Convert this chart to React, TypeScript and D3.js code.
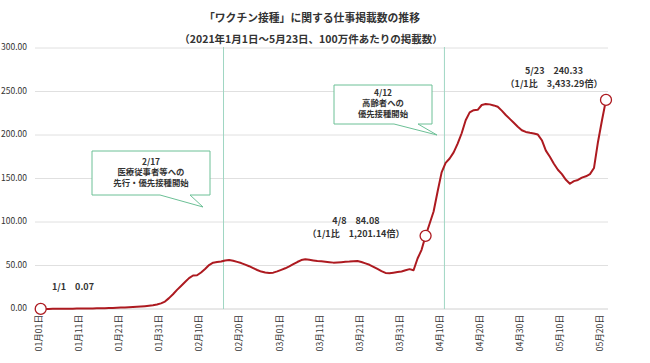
import React from "react";
import * as d3 from "d3";

// Daily values (job postings per 1M) from 2021-01-01, index-based
const values: number[] = [
  0.07, 0.1, 0.12, 0.15, 0.2, 0.25, 0.3, 0.35, 0.4, 0.45,
  0.5, 0.55, 0.6, 0.7, 0.8, 0.9, 1.0, 1.1, 1.2, 1.4,
  1.6, 1.8, 2.0, 2.2, 2.5, 2.8, 3.2, 3.7, 4.3, 5.2,
  6.5, 8.5, 12.5, 17, 22, 26.5, 31, 35.5, 38.5, 38.8,
  42, 46, 50.5, 53.2, 54, 54.6, 55.8, 56.3, 55.5, 54.2,
  52.8, 51, 49.2, 47, 44.8, 43, 42, 41.4, 41.8, 43.2,
  45, 46.8, 49, 51.5, 54, 56.2, 57.1, 56.5, 55.8, 55.2,
  54.8, 54.3, 53.8, 53.3, 53.5, 53.8, 54.2, 54.5, 55, 55.2,
  54, 52.4, 50.8, 48.5, 46, 43.5, 41.5, 41.2, 41.8, 42.5,
  43.2, 44.5, 45.8, 44.5, 58, 68, 84.08, 98, 112, 135,
  157, 168, 173, 180, 190, 202, 217, 226, 228.5, 229,
  234.5, 235.6, 235.2, 234, 232.5, 228, 223, 218.5, 214, 209.5,
  205.5, 203.5, 202.5, 201.8, 200.5, 194, 182, 175, 167, 160,
  155, 148.5, 144, 147, 148.3, 151, 152.5, 155, 162, 192,
  217, 240.33,
];

const tickIdx: number[] = [0, 10, 20, 30, 40, 50, 60, 70, 80, 90, 100, 110, 120, 130, 140];
const tickLabels: string[] = [
  "01月01日", "01月11日", "01月21日", "01月31日", "02月10日", "02月20日", "03月01日",
  "03月11日", "03月21日", "03月31日", "04月10日", "04月20日", "04月30日", "05月10日", "05月20日",
];
const yTicks: number[] = [0, 50, 100, 150, 200, 250, 300];

// highlighted points (index)
const markIdx: number[] = [0, 96, 141];
const markLabels: string[][] = [
  ["1/1\u30000.07"],
  ["4/8\u300084.08", "（1/1比\u30001,201.14倍）"],
  ["5/23\u3000240.33", "（1/1比\u30003,433.29倍）"],
];
// event vertical lines (index positions)
const eventIdx: number[] = [45.6, 100.7];
const eventLabels: string[][] = [
  ["2/17", "医療従事者等への", "先行・優先接種開始"],
  ["4/12", "高齢者への", "優先接種開始"],
];

const title1 = "「ワクチン接種」に関する仕事掲載数の推移";
const title2 = "（2021年1月1日～5月23日、100万件あたりの掲載数）";

const W = 650;
const H = 363;
const FONT = "'Noto Sans CJK JP', 'Noto Sans', sans-serif";
const TXT = "#333";

export default function App() {
  const x = d3.scaleLinear().domain([0, values.length - 1]).range([40.7, 606]);
  const y = d3.scaleLinear().domain([0, 300]).range([309, 48]);
  const line = d3
    .line<number>()
    .x((_, i) => x(i))
    .y((d) => y(d));

  const gridL = 35;
  const gridR = 608;

  // callout boxes layout
  const boxes = [
    { x0: 92, x1: 210, y0: 151, y1: 195, tb0: 160, tb1: 190, ax: 203, ay: 207, cx: 151, ty: 162.5 },
    { x0: 334, x1: 432, y0: 85, y1: 124, tb0: 394, tb1: 418, ax: 437, ay: 135, cx: 383, ty: 93.5 },
  ];
  const labelPos = [
    { cx: 73, y: 288 },
    { cx: 356, y: 222 },
    { cx: 554, y: 72 },
  ];

  return (
    <div>
      <style>{`body{margin:0;background:#fff}`}</style>
      <svg width={W} height={H} style={{ display: "block", background: "#fff" }} fontFamily={FONT}>
        <text x={312} y={19} textAnchor="middle" dominantBaseline="middle" fontSize={10.8} fontWeight={700} fill={TXT}>
          {title1}
        </text>
        <text x={311} y={40} textAnchor="middle" dominantBaseline="middle" fontSize={10.5} fontWeight={700} fill={TXT}>
          {title2}
        </text>

        {yTicks.map((t) => (
          <g key={t}>
            <line x1={gridL} x2={gridR} y1={y(t)} y2={y(t)} stroke={t === 0 ? "#d0d0d0" : "#e0e0e0"} strokeWidth={1} />
            <text x={27} y={y(t)} textAnchor="end" dominantBaseline="middle" fontSize={8.5} fill={TXT}>
              {t.toFixed(2)}
            </text>
          </g>
        ))}

        {tickIdx.map((ti, k) => (
          <text
            key={ti}
            transform={`translate(${x(ti) - 1},315) rotate(-90)`}
            textAnchor="end"
            dominantBaseline="middle"
            fontSize={8.6}
            fill={TXT}
          >
            {tickLabels[k]}
          </text>
        ))}

        {eventIdx.map((ei) => (
          <line key={ei} x1={x(ei)} x2={x(ei)} y1={47} y2={309} stroke="#9fd6c3" strokeWidth={1} />
        ))}

        {boxes.map((b, k) => (
          <g key={k}>
            <path
              d={`M${b.x0},${b.y0}H${b.x1}V${b.y1}H${b.tb1}L${b.ax},${b.ay}L${b.tb0},${b.y1}H${b.x0}Z`}
              fill="#fff"
              stroke="#6cc096"
              strokeWidth={1}
            />
            {eventLabels[k].map((s, j) => (
              <text
                key={j}
                x={b.cx}
                y={b.ty + j * 10.6}
                textAnchor="middle"
                dominantBaseline="middle"
                fontSize={8.4}
                fontWeight={700}
                fill={TXT}
              >
                {s}
              </text>
            ))}
          </g>
        ))}

        <path d={line(values) || ""} fill="none" stroke="#ad1a20" strokeWidth={2} strokeLinejoin="round" />

        {markIdx.map((mi) => (
          <circle key={mi} cx={x(mi)} cy={y(values[mi])} r={5.5} fill="#fff" stroke="#ad1a20" strokeWidth={1.3} />
        ))}

        {markLabels.map((ls, k) =>
          ls.map((s, j) => (
            <text
              key={`${k}-${j}`}
              x={labelPos[k].cx}
              y={labelPos[k].y + j * 12.6}
              textAnchor="middle"
              dominantBaseline="middle"
              fontSize={9}
              fontWeight={700}
              fill={TXT}
            >
              {s}
            </text>
          ))
        )}
      </svg>
    </div>
  );
}
